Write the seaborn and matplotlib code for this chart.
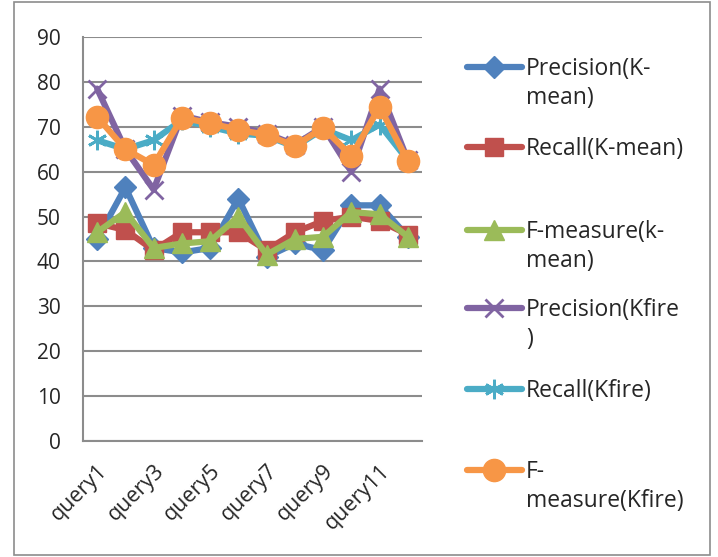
import numpy as np
import pandas as pd
import seaborn as sns
import matplotlib.pyplot as plt
from matplotlib.lines import Line2D
from matplotlib.patches import Rectangle

queries = ['query%d' % i for i in range(1, 13)]

precision_kmean = [45, 56.5, 43, 42, 43, 54, 41, 44, 42.5, 52.5, 52.5, 45.5]
recall_kmean = [48.5, 47, 42.5, 46.5, 46.5, 46.5, 42.5, 46.5, 49, 50, 49, 46]
fmeasure_kmean = [46.5, 51, 43, 44, 44.5, 50, 41.5, 45, 45.5, 51, 50.5, 45.5]
precision_kfire = [78.5, 65, 56, 72.5, 71, 70, 68.5, 66, 70, 60, 78.5, 62.5]
recall_kfire = [67, 65, 67, 71.5, 70, 68.5, 68, 65.5, 69.5, 67, 70.5, 62.5]
fmeasure_kfire = [72.2, 65, 61.5, 72, 70.8, 69.3, 68.2, 65.7, 69.8, 63.5, 74.4, 62.4]

series = {
    'Precision(K-mean)': precision_kmean,
    'Recall(K-mean)': recall_kmean,
    'F-measure(k-mean)': fmeasure_kmean,
    'Precision(Kfire)': precision_kfire,
    'Recall(Kfire)': recall_kfire,
    'F-measure(Kfire)': fmeasure_kfire,
}
legend_text = ['Precision(K-\nmean)', 'Recall(K-mean)', 'F-measure(k-\nmean)',
               'Precision(Kfire\n)', 'Recall(Kfire)', 'F-\nmeasure(Kfire)']

colors = ['#4F81BD', '#C0504D', '#9BBB59', '#8064A2', '#4BACC6', '#F79646']
asterisk = (6, 2, 0)
markers = ['D', 's', '^', 'x', asterisk, 'o']
msizes = [11, 13, 14, 13, 14, 16]

sns.set_style('white')
plt.rcParams['font.family'] = ['Open Sans', 'DejaVu Sans']

fig = plt.figure(figsize=(7.18, 5.57), dpi=100)
ax = fig.add_axes([83 / 718, 1 - 441 / 557, (422 - 83) / 718, (441 - 37) / 557])

for (name, vals), c, m, ms in zip(series.items(), colors, markers, msizes):
    df = pd.DataFrame({'x': np.arange(len(queries)), 'y': vals})
    sns.lineplot(data=df, x='x', y='y', ax=ax, color=c, lw=4.5, marker=m,
                 markersize=ms, markeredgecolor=c, markeredgewidth=2 if m in ('x', asterisk) else 1)

ax.set_xlim(-0.5, len(queries) - 0.5)
ax.set_ylim(0, 90)
ax.set_yticks(range(0, 91, 10))
ax.yaxis.grid(True, color='#8c8c8c', lw=1.5)
ax.set_axisbelow(True)
ax.set_xlabel('')
ax.set_ylabel('')
ax.set_xticks(range(0, 12, 2))
ax.set_xticklabels(queries[::2], rotation=45, ha='right', rotation_mode='anchor', fontsize=15.5)
ax.set_xticks(np.arange(-0.5, 12, 1), minor=True)
ax.tick_params(axis='x', which='major', length=0, pad=14)
ax.tick_params(axis='x', which='minor', length=6, color='#8c8c8c', width=1.5, direction='out')
ax.tick_params(axis='y', length=7, color='#8c8c8c', width=1.5, labelsize=15, pad=9)
for s in ['top', 'right']:
    ax.spines[s].set_visible(False)
for s in ['left', 'bottom']:
    ax.spines[s].set_color('#8c8c8c')
    ax.spines[s].set_linewidth(1.5)

# legend drawn by hand to keep the wrapped layout
ys = [67, 147, 230, 308, 389, 470]
for y, c, m, ms, lab in zip(ys, colors, markers, msizes, legend_text):
    fy = 1 - y / 557
    fig.add_artist(Line2D([467 / 718, 522 / 718], [fy, fy], color=c, lw=4.5,
                          solid_capstyle='round'))
    fig.add_artist(Line2D([494 / 718], [fy], color=c, marker=m, markersize=ms,
                          markeredgecolor=c, markeredgewidth=2 if m in ('x', asterisk) else 1))
    fig.text(526 / 718, fy + 10 / 557, lab, fontsize=16.5, va='top', ha='left',
             linespacing=1.28)

fig.add_artist(Rectangle((14 / 718, 0.003), (710 - 14) / 718, 0.994, fill=False,
                         edgecolor='#8c8c8c', lw=1.2, transform=fig.transFigure))

fig.savefig('out.png', dpi=100)
